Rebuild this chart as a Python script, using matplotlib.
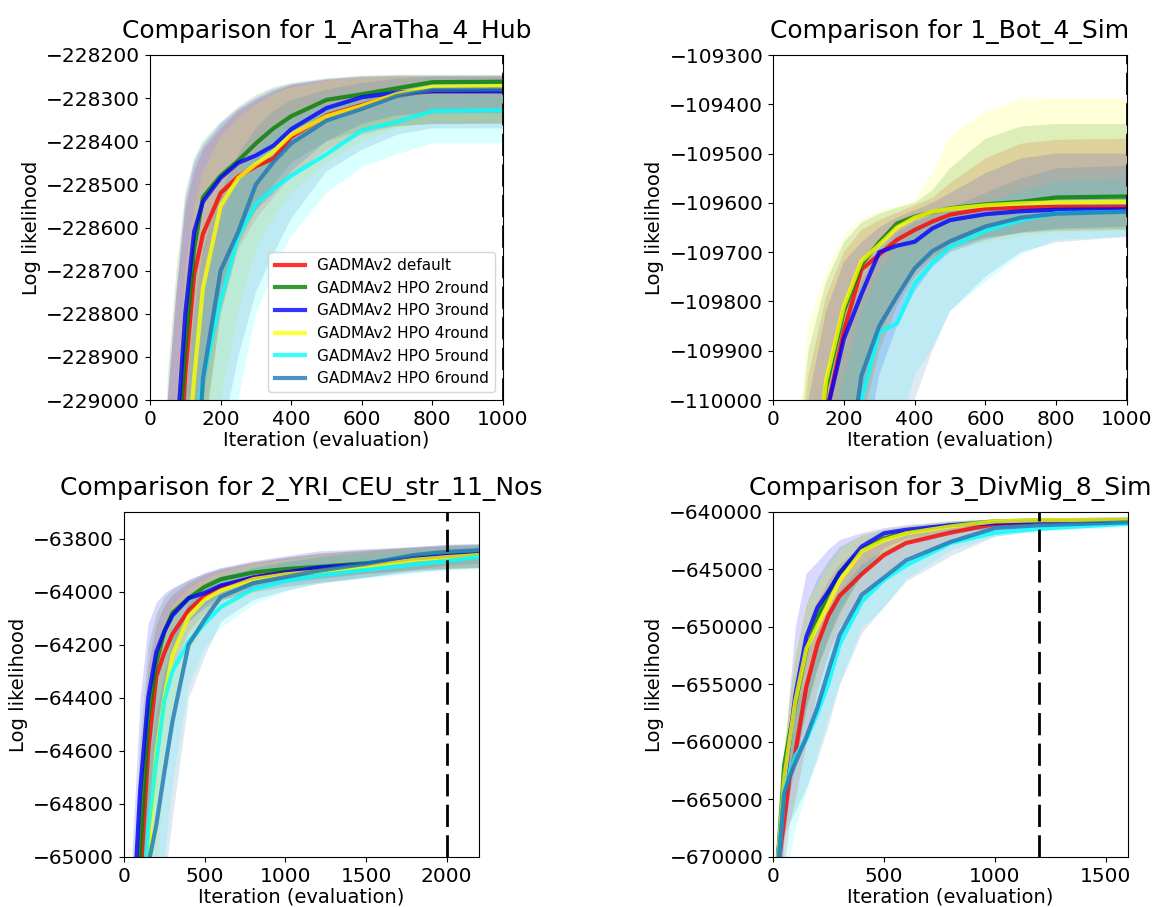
import matplotlib
matplotlib.use('Agg')
import matplotlib.pyplot as plt
import matplotlib.ticker as ticker

labels = ['GADMAv2 default', 'GADMAv2 HPO 2round', 'GADMAv2 HPO 3round',
          'GADMAv2 HPO 4round', 'GADMAv2 HPO 5round', 'GADMAv2 HPO 6round']
colors = ['red', 'green', 'blue', 'yellow', 'cyan', 'tab:blue']

# ---- 1_AraTha_4_Hub ----
ara_x = [0, 50, 75, 100, 125, 150, 200, 250, 300, 350, 400, 500, 600, 700, 800, 1000]
ara_mean = [
    [-232000, -230500, -229300, -228940, -228710, -228615, -228520, -228482, -228458, -228440, -228390, -228340, -228316, -228292, -228284, -228284],
    [-232000, -231000, -229200, -228880, -228650, -228530, -228480, -228445, -228405, -228370, -228342, -228304, -228291, -228277, -228263, -228262],
    [-232000, -230000, -229100, -228800, -228610, -228540, -228485, -228450, -228433, -228410, -228372, -228323, -228298, -228287, -228284, -228284],
    [-232000, -231000, -229800, -229200, -228950, -228740, -228550, -228485, -228453, -228424, -228385, -228342, -228318, -228290, -228274, -228272],
    [-232000, -231500, -230500, -229800, -229100, -228950, -228770, -228620, -228545, -228510, -228480, -228430, -228375, -228355, -228330, -228328],
    [-232000, -231500, -230500, -229700, -229300, -228950, -228700, -228610, -228500, -228448, -228405, -228352, -228325, -228295, -228281, -228280],
]
ara_lo = [
    [-233000, -232000, -231000, -230000, -229400, -229100, -228800, -228650, -228580, -228530, -228480, -228420, -228385, -228365, -228360, -228360],
    [-233000, -232000, -231000, -230000, -229500, -229100, -228800, -228640, -228560, -228500, -228450, -228400, -228375, -228365, -228360, -228358],
    [-233000, -232000, -231000, -229800, -229300, -229000, -228750, -228620, -228560, -228520, -228470, -228400, -228360, -228340, -228335, -228335],
    [-233000, -232500, -231500, -230500, -229800, -229400, -229000, -228800, -228650, -228580, -228520, -228450, -228400, -228370, -228355, -228355],
    [-233000, -233000, -232000, -231000, -230500, -230000, -229300, -229000, -228800, -228700, -228620, -228520, -228460, -228430, -228405, -228405],
    [-233000, -233000, -232000, -231000, -230000, -229500, -229100, -228900, -228750, -228660, -228580, -228470, -228420, -228385, -228370, -228370],
]
ara_hi = [
    [-231000, -229000, -228750, -228560, -228470, -228420, -228370, -228330, -228305, -228285, -228270, -228258, -228252, -228250, -228250, -228250],
    [-231000, -228950, -228700, -228520, -228440, -228400, -228355, -228320, -228293, -228275, -228265, -228254, -228248, -228246, -228246, -228246],
    [-231000, -229000, -228750, -228540, -228450, -228410, -228360, -228325, -228300, -228280, -228268, -228256, -228250, -228248, -228248, -228248],
    [-231500, -229500, -229000, -228700, -228550, -228470, -228390, -228345, -228315, -228290, -228275, -228260, -228253, -228250, -228250, -228250],
    [-232000, -230500, -229600, -229100, -228850, -228720, -228580, -228480, -228420, -228380, -228350, -228315, -228295, -228280, -228265, -228265],
    [-232000, -230500, -229500, -229000, -228800, -228650, -228520, -228430, -228370, -228330, -228305, -228280, -228265, -228255, -228250, -228250],
]

# ---- 1_Bot_4_Sim ----
bot_x = [0, 50, 100, 150, 200, 250, 300, 350, 400, 450, 500, 600, 700, 800, 1000]
bot_mean = [
    [-111000, -110700, -110400, -110030, -109860, -109735, -109705, -109675, -109655, -109638, -109624, -109612, -109610, -109608, -109608],
    [-111000, -110600, -110300, -109975, -109820, -109725, -109680, -109642, -109628, -109619, -109611, -109603, -109598, -109589, -109587],
    [-111000, -110700, -110400, -110030, -109876, -109785, -109700, -109687, -109679, -109652, -109635, -109623, -109617, -109614, -109613],
    [-111000, -110600, -110300, -109960, -109810, -109718, -109685, -109650, -109630, -109618, -109612, -109605, -109601, -109599, -109598],
    [-111200, -110900, -110700, -110500, -110300, -110000, -109862, -109845, -109765, -109722, -109690, -109657, -109635, -109621, -109618],
    [-111200, -110900, -110600, -110400, -110200, -109950, -109850, -109790, -109733, -109698, -109678, -109648, -109630, -109622, -109618],
]
bot_lo = [
    [-112000, -111800, -111300, -110700, -110300, -110050, -109900, -109810, -109750, -109715, -109695, -109672, -109662, -109657, -109655],
    [-112000, -111800, -111200, -110600, -110250, -110000, -109870, -109790, -109740, -109710, -109690, -109670, -109660, -109655, -109652],
    [-112000, -111800, -111500, -110800, -110400, -110150, -109950, -109850, -109780, -109730, -109700, -109675, -109660, -109652, -109648],
    [-112000, -111800, -111500, -110800, -110300, -110100, -109900, -109800, -109760, -109720, -109700, -109680, -109668, -109660, -109655],
    [-112500, -112200, -112000, -111700, -111500, -111000, -110600, -110080, -109950, -109895, -109820, -109760, -109705, -109675, -109669],
    [-112500, -112200, -112000, -111500, -111000, -110600, -110300, -110150, -110000, -109900, -109820, -109750, -109700, -109680, -109669],
]
bot_hi = [
    [-110800, -110300, -109950, -109790, -109700, -109655, -109635, -109620, -109605, -109590, -109560, -109510, -109480, -109472, -109470],
    [-110800, -110250, -109900, -109760, -109680, -109640, -109622, -109610, -109600, -109575, -109530, -109470, -109445, -109440, -109440],
    [-110800, -110400, -110000, -109820, -109720, -109680, -109650, -109630, -109615, -109600, -109580, -109540, -109510, -109500, -109500],
    [-110600, -110200, -109850, -109740, -109667, -109632, -109617, -109607, -109595, -109540, -109465, -109415, -109390, -109388, -109388],
    [-111200, -110800, -110500, -110150, -109950, -109820, -109740, -109690, -109660, -109640, -109625, -109600, -109575, -109555, -109550],
    [-111200, -110800, -110400, -110050, -109850, -109760, -109700, -109660, -109640, -109625, -109610, -109580, -109550, -109530, -109525],
]

# ---- 2_YRI_CEU_str_11_Nos ----
yri_x = [0, 50, 100, 150, 200, 250, 300, 400, 500, 600, 800, 1000, 1200, 1500, 1800, 2000, 2200]
yri_mean = [
    [-66500, -65800, -65100, -64600, -64320, -64230, -64160, -64070, -64015, -63982, -63947, -63926, -63912, -63897, -63875, -63866, -63860],
    [-66500, -65700, -64980, -64480, -64270, -64150, -64080, -64025, -63982, -63953, -63928, -63915, -63907, -63893, -63873, -63864, -63858],
    [-66500, -65300, -64750, -64400, -64228, -64150, -64090, -64025, -64005, -63977, -63947, -63928, -63910, -63897, -63873, -63866, -63859],
    [-66500, -66000, -65500, -65005, -64610, -64400, -64240, -64095, -64030, -63996, -63953, -63935, -63924, -63905, -63880, -63870, -63862],
    [-66500, -66000, -65400, -64900, -64640, -64410, -64300, -64190, -64120, -64058, -63990, -63960, -63940, -63918, -63898, -63885, -63869],
    [-66500, -66200, -65700, -65030, -64880, -64680, -64490, -64200, -64105, -64020, -63968, -63945, -63922, -63895, -63862, -63850, -63844],
]
yri_lo = [
    [-67000, -66500, -65700, -65050, -64650, -64420, -64290, -64150, -64080, -64035, -63990, -63965, -63952, -63932, -63918, -63912, -63908],
    [-67000, -66500, -65600, -64950, -64600, -64380, -64250, -64110, -64050, -64015, -63980, -63960, -63948, -63930, -63918, -63912, -63908],
    [-67000, -66500, -65500, -64900, -64550, -64350, -64230, -64110, -64060, -64030, -64000, -63980, -63965, -63945, -63925, -63915, -63910],
    [-67000, -66800, -66100, -65500, -65050, -64700, -64450, -64230, -64120, -64065, -64005, -63980, -63965, -63942, -63920, -63912, -63908],
    [-67000, -66800, -66200, -65600, -65200, -65000, -64720, -64350, -64210, -64135, -64047, -63998, -63968, -63950, -63930, -63920, -63915],
    [-67000, -67000, -66300, -65700, -65400, -65100, -64850, -64400, -64240, -64110, -64030, -63995, -63970, -63945, -63915, -63900, -63893],
]
yri_hi = [
    [-66000, -65300, -64650, -64280, -64120, -64050, -64010, -63965, -63935, -63915, -63890, -63872, -63857, -63844, -63834, -63828, -63824],
    [-66000, -65200, -64550, -64200, -64080, -64020, -63990, -63955, -63930, -63912, -63888, -63870, -63855, -63842, -63832, -63826, -63822],
    [-66000, -64980, -64400, -64120, -64040, -64005, -63985, -63955, -63928, -63909, -63884, -63865, -63847, -63838, -63830, -63822, -63820],
    [-66200, -65500, -64900, -64450, -64220, -64110, -64050, -63985, -63950, -63925, -63895, -63878, -63862, -63848, -63836, -63830, -63825],
    [-66200, -65600, -64950, -64550, -64330, -64180, -64100, -64010, -63970, -63940, -63905, -63885, -63870, -63855, -63842, -63835, -63828],
    [-66300, -65800, -65100, -64650, -64450, -64300, -64180, -64040, -63990, -63950, -63910, -63888, -63868, -63848, -63830, -63822, -63818],
]

# ---- 3_DivMig_8_Sim ----
div_x = [0, 25, 50, 75, 100, 150, 200, 250, 300, 400, 500, 600, 800, 1000, 1200, 1600]
div_mean = [
    [-675000, -670500, -666900, -663043, -661000, -655217, -651500, -649000, -647300, -645400, -643750, -642700, -641800, -641050, -640860, -640725],
    [-675000, -669500, -662000, -659300, -656800, -652029, -649200, -647100, -645300, -643300, -642300, -641800, -641150, -640820, -640720, -640667],
    [-675000, -669500, -663800, -659850, -656000, -650870, -648300, -646900, -645300, -643000, -641850, -641550, -641150, -640970, -640830, -640725],
    [-675000, -669500, -663300, -659800, -656500, -651900, -649900, -648000, -646000, -643400, -642450, -641850, -641250, -640820, -640720, -640667],
    [-675000, -670500, -664400, -662700, -661200, -659800, -657500, -654900, -651500, -647800, -645900, -644650, -642700, -641800, -641450, -641014],
    [-675000, -670500, -664500, -663000, -661850, -659600, -657000, -653800, -650700, -647200, -645700, -644200, -642600, -641400, -641150, -640899],
]
div_lo = [
    [-679000, -675000, -671000, -667000, -665000, -660000, -655500, -652300, -650000, -647800, -645600, -644000, -642600, -641500, -641100, -640900],
    [-678000, -674000, -666000, -663500, -661500, -657000, -653500, -650800, -648500, -645500, -643600, -642600, -641700, -641200, -641000, -640900],
    [-678000, -674000, -668500, -664500, -662000, -657000, -653500, -651000, -648800, -645200, -643100, -642300, -641700, -641400, -641200, -641050],
    [-678000, -674000, -667000, -664000, -661500, -657000, -654000, -651500, -649000, -645500, -643700, -642600, -641700, -641100, -640950, -640850],
    [-679000, -676000, -671000, -670000, -667500, -664300, -661000, -657800, -654800, -650000, -648300, -645800, -643300, -642100, -641650, -641300],
    [-679000, -675000, -668000, -667000, -666000, -664000, -661500, -658500, -655000, -650500, -648200, -646000, -643800, -642100, -641600, -641150],
]
div_hi = [
    [-673000, -668000, -663000, -659000, -656000, -650500, -647800, -645900, -644500, -643000, -642000, -641500, -641000, -640700, -640600, -640550],
    [-672000, -667000, -660500, -656000, -652500, -648000, -645700, -644200, -643000, -642000, -641500, -641200, -640800, -640600, -640550, -640500],
    [-672000, -666000, -661500, -655500, -650000, -645300, -644300, -643200, -642400, -641800, -641350, -641100, -640750, -640600, -640550, -640500],
    [-672000, -666500, -660000, -655800, -652000, -648000, -646200, -644700, -643300, -642000, -641500, -641150, -640800, -640600, -640550, -640500],
    [-673000, -668000, -661500, -659500, -657500, -655000, -652000, -649000, -647000, -644600, -643400, -642500, -641500, -641000, -640850, -640700],
    [-673000, -668000, -661000, -659000, -657000, -654500, -651500, -648500, -646800, -644500, -643300, -642400, -641500, -640900, -640750, -640650],
]

panels = [
    ('1_AraTha_4_Hub', ara_x, ara_mean, ara_lo, ara_hi, (0, 1000), (-229000, -228200), 200, 100, 1000,
     [150 / 1156, 1 - 400 / 907, 353 / 1156, 345 / 907]),
    ('1_Bot_4_Sim', bot_x, bot_mean, bot_lo, bot_hi, (0, 1000), (-110000, -109300), 200, 100, 1000,
     [773 / 1156, 1 - 400 / 907, 354 / 1156, 345 / 907]),
    ('2_YRI_CEU_str_11_Nos', yri_x, yri_mean, yri_lo, yri_hi, (0, 2200), (-65000, -63700), 500, 200, 2000,
     [124 / 1156, 1 - 857 / 907, 355 / 1156, 345 / 907]),
    ('3_DivMig_8_Sim', div_x, div_mean, div_lo, div_hi, (0, 1600), (-670000, -640000), 500, 5000, 1200,
     [773 / 1156, 1 - 857 / 907, 355 / 1156, 345 / 907]),
]

fig = plt.figure(figsize=(11.56, 9.07), dpi=100)

for i, (name, x, mean, lo, hi, xlim, ylim, xstep, ystep, budget, rect) in enumerate(panels):
    ax = fig.add_axes(rect)
    # shaded spread for every run, then the mean curves on top
    for k in range(6):
        ax.fill_between(x, lo[k], hi[k], color=colors[k], alpha=0.15, linewidth=0, zorder=1)
    for k in range(6):
        ax.plot(x, mean[k], color=colors[k], alpha=0.8, lw=3, label=labels[k], zorder=2)
    ax.axvline(budget, color='black', lw=2, ls=(0, (8, 3)), zorder=3)

    ax.set_xlim(*xlim)
    ax.set_ylim(*ylim)
    ax.xaxis.set_major_locator(ticker.MultipleLocator(xstep))
    ax.yaxis.set_major_locator(ticker.MultipleLocator(ystep))
    ax.ticklabel_format(axis='y', style='plain', useOffset=False)
    ax.tick_params(labelsize=14.5)
    ax.set_title(f'Comparison for {name}', fontsize=18, pad=12)
    ax.set_xlabel('Iteration (evaluation)', fontsize=14, labelpad=1)
    ax.set_ylabel('Log likelihood', fontsize=14)
    if i == 0:
        ax.legend(loc='lower right', fontsize=11)

plt.savefig('out.png', dpi=100)
